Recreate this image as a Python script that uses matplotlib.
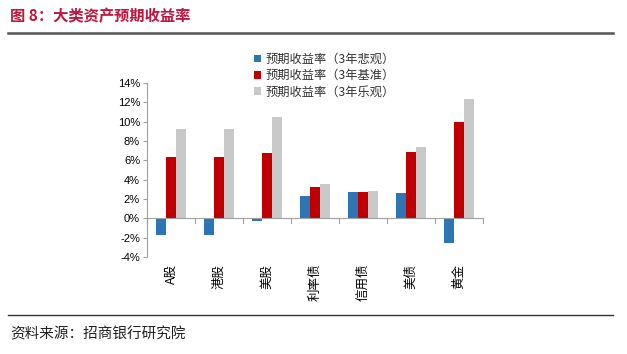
import numpy as np
import matplotlib
matplotlib.use("Agg")
import matplotlib.pyplot as plt
from matplotlib.ticker import FuncFormatter

plt.rcParams["font.family"] = ["Liberation Sans", "Noto Sans CJK SC", "DejaVu Sans"]

categories = ["A股", "港股", "美股", "利率债", "信用债", "美债", "黄金"]
bear = [-1.7, -1.7, -0.3, 2.35, 2.7, 2.6, -2.5]
base = [6.3, 6.3, 6.8, 3.2, 2.75, 6.9, 10.0]
bull = [9.2, 9.2, 10.5, 3.6, 2.8, 7.4, 12.3]
series_names = ["预期收益率（3年悲观）", "预期收益率（3年基准）", "预期收益率（3年乐观）"]
colors = ["#2E75B6", "#C00000", "#C9C9C9"]

fig = plt.figure(figsize=(6.27, 3.54), dpi=100)

# header / footer decorations
fig.text(0.016, 0.955, "图 8：大类资产预期收益率", fontsize=11, fontweight="bold",
         color="#C0143C", va="center", ha="left", family=["Noto Sans CJK SC"])
fig.add_artist(plt.Line2D([0.013, 0.977], [0.907, 0.907], color="#555555", lw=1.8))
fig.add_artist(plt.Line2D([0.013, 0.977], [0.111, 0.111], color="#333333", lw=1.0))
fig.text(0.016, 0.057, "资料来源：招商银行研究院", fontsize=10.5, color="#222222",
         va="center", ha="left", family=["Noto Sans CJK SC"])

ax = fig.add_axes([0.2344, 0.274, 0.536, 0.4915])
ind = np.arange(len(categories))
w = 0.21
for k, (vals, name, c) in enumerate(zip([bear, base, bull], series_names, colors)):
    ax.bar(ind + (k - 1) * w, vals, w, color=c, label=name, zorder=2)

ax.set_xlim(-0.5, len(categories) - 0.5)
ax.set_ylim(-4, 14)
ax.set_yticks(np.arange(-4, 15, 2))
ax.yaxis.set_major_formatter(FuncFormatter(lambda v, p: "%d%%" % v))
ax.tick_params(axis="y", labelsize=8, length=3, color="#A0A0A0", pad=2)

for s in ["top", "right", "bottom"]:
    ax.spines[s].set_visible(False)
ax.spines["left"].set_color("#A0A0A0")
ax.axhline(0, color="#A0A0A0", lw=0.8, zorder=3)

# category boundary ticks on the zero line
for b in np.arange(-0.5, len(categories), 1.0):
    ax.plot([b, b], [0, -0.45], color="#A0A0A0", lw=0.8, clip_on=False, zorder=3)

ax.set_xticks(ind)
ax.set_xticklabels(categories, rotation=90, fontsize=9,
                   family=["Noto Sans CJK SC"])
ax.tick_params(axis="x", length=0, pad=5)

leg = ax.legend(loc="upper left", bbox_to_anchor=(0.395, 0.868),
                bbox_transform=fig.transFigure, frameon=False,
                handlelength=0.6, handleheight=0.6, handletextpad=0.4,
                labelspacing=0.28, borderpad=0,
                prop={"family": ["Noto Sans CJK SC"], "size": 8.8})
for t in leg.get_texts():
    t.set_color("#333333")

fig.savefig("out.png", dpi=100)
